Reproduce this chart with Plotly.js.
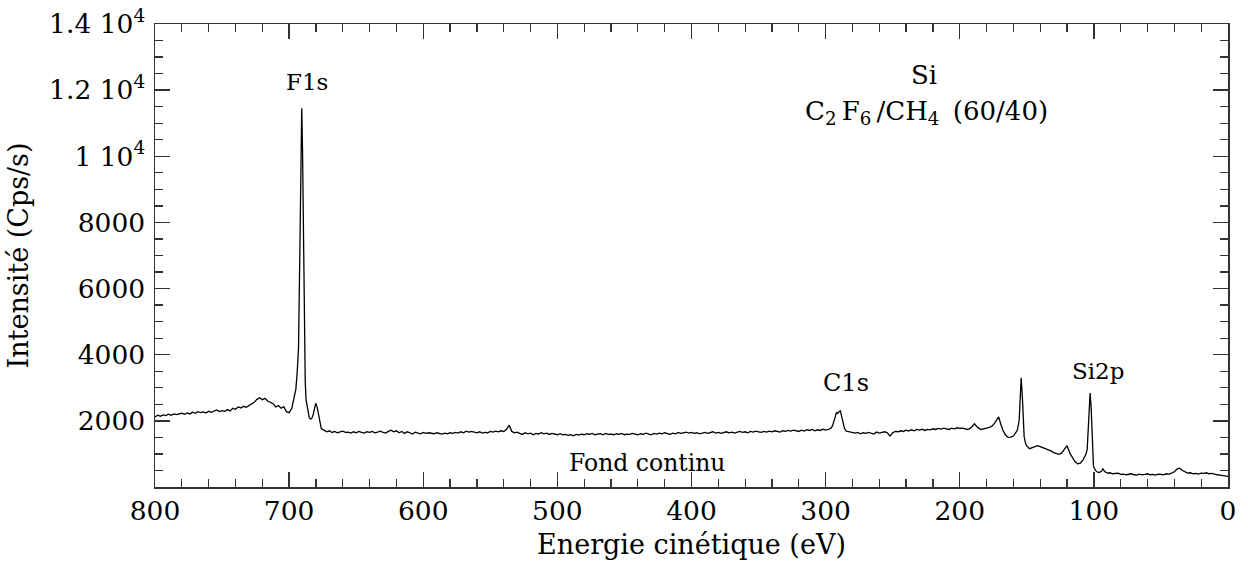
<!DOCTYPE html>
<html>
<head>
<meta charset="utf-8">
<script src="https://cdn.plot.ly/plotly-3.0.1.min.js"></script>
<style>html,body{margin:0;padding:0;background:#fff;}#chart{width:1248px;height:564px;}</style>
</head>
<body>
<div id="chart"></div>
<script>
// Kinetic energy (eV) and intensity (Cps/s)
const energy = [
800,798,796,794,792,790,788,786,784,782,780,778,776,774,772,770,768,766,764,762,
760,758,756,754,752,750,748,746,744,742,740,738,736,734,732,730,728,726,724,722,
720,718,716,714,712,710,708,706,704,702,700,698,697,696,695,694,693,692,691,690.6,
690,689.4,688.7,688,687.4,686,685,684,683,682,681,680.2,679,678,677,676,674,672,670,668,
666,664,662,660,658,656,654,652,650,648,646,644,642,640,638,636,634,632,630,628,
626,624,622,620,618,616,614,612,610,608,606,604,602,600,598,596,594,592,590,588,
586,584,582,580,578,576,574,572,570,568,566,564,562,560,558,556,554,552,550,548,
546,544,542,540,538,537,536,535,534,532,530,528,526,524,522,520,518,516,514,512,
510,508,506,504,502,500,498,496,494,492,490,488,486,484,482,480,478,476,474,472,
470,468,466,464,462,460,458,456,454,452,450,448,446,444,442,440,438,436,434,432,
430,428,426,424,422,420,418,416,414,412,410,408,406,404,402,400,398,396,394,392,
390,388,386,384,382,380,378,376,374,372,370,368,366,364,362,360,358,356,354,352,
350,348,346,344,342,340,338,336,334,332,330,328,326,324,322,320,318,316,314,312,
310,308,306,304,302,300,298,296,295,294,293,292,291,290,289,288,287,286,285,284,
282,280,278,276,274,272,270,268,266,264,262,260,258,256,254,252,250,248,246,244,
242,240,238,236,234,232,230,228,226,224,222,220,218,216,214,212,210,208,206,204,
202,200,198,196,194,192,190,189,188,186,184,182,180,178,176,174,172,171,170,168,
166,164,162,160,158,157,156,155.7,155,154.2,153.2,152,151,150,148,146,144,142,140,138,
136,134,132,130,128,126,124,122,120,118,116,114,112,110,108,106,105,104,102.8,102,
101.5,101,100.3,99,97.8,96,94,93.3,92,90,88,86,84,82,80,78,76,74,72,70,
68,66,64,62,60,58,56,54,52,50,48,46,44,42,40,38,36,34,32,30,
28,26,24,22,20,18,16,14,12,10,8,6,4,2,0
];
const intensity = [
2120,2170,2140,2180,2160,2200,2170,2210,2190,2200,2230,2200,2240,2210,2260,2230,2280,2250,2270,2240,
2290,2260,2300,2330,2280,2310,2290,2340,2300,2380,2350,2420,2390,2440,2410,2460,2500,2560,2650,2700,
2640,2680,2600,2560,2520,2420,2460,2380,2430,2280,2250,2380,2550,2750,2950,3450,4200,7100,10500,11450,
10200,8300,4300,3200,2650,2250,2100,2050,2080,2200,2420,2530,2400,2150,1900,1760,1720,1670,1700,1650,
1680,1640,1670,1690,1650,1660,1630,1670,1640,1680,1650,1630,1670,1650,1680,1640,1660,1690,1650,1630,
1680,1720,1670,1700,1640,1680,1620,1670,1640,1600,1660,1630,1610,1650,1620,1640,1630,1610,1640,1620,
1600,1630,1610,1640,1620,1650,1630,1670,1640,1690,1660,1680,1650,1640,1670,1630,1650,1640,1680,1660,
1690,1670,1700,1680,1740,1800,1860,1780,1680,1640,1660,1620,1590,1640,1610,1630,1580,1620,1600,1640,
1610,1630,1590,1620,1600,1580,1610,1580,1590,1560,1580,1550,1590,1570,1600,1580,1610,1590,1620,1580,
1600,1610,1580,1620,1590,1600,1580,1610,1590,1620,1580,1600,1590,1620,1600,1580,1610,1590,1630,1600,
1580,1620,1600,1630,1610,1640,1610,1590,1630,1610,1650,1620,1640,1660,1630,1650,1620,1640,1610,1630,
1650,1620,1640,1670,1630,1650,1620,1640,1670,1640,1660,1630,1650,1680,1650,1670,1640,1680,1660,1690,
1670,1650,1680,1660,1690,1670,1700,1680,1660,1700,1680,1710,1690,1720,1700,1680,1720,1690,1730,1710,
1740,1700,1730,1710,1750,1720,1740,1780,1840,1940,2090,2250,2230,2280,2300,2130,1930,1780,1700,1680,
1670,1640,1630,1650,1610,1640,1620,1650,1630,1600,1660,1630,1650,1670,1640,1540,1640,1680,1670,1700,
1680,1720,1690,1730,1700,1740,1720,1750,1710,1740,1730,1760,1740,1770,1750,1780,1760,1740,1780,1760,
1790,1770,1780,1760,1740,1780,1880,1910,1860,1780,1740,1750,1780,1800,1840,1930,2080,2120,1980,1730,
1580,1500,1510,1540,1660,1730,1950,2030,2620,3300,2630,1530,1330,1240,1160,1190,1230,1250,1220,1190,
1170,1130,1090,1040,1020,990,1030,1130,1250,1030,880,760,700,720,830,980,1130,2030,2840,2380,
1830,1280,630,520,460,440,490,560,470,420,430,400,410,420,380,390,370,380,400,370,
360,390,370,380,400,370,380,360,390,380,370,400,390,420,460,540,570,500,450,420,
430,400,410,390,420,410,430,400,410,380,370,360,340,330,320
];
const xTicks = [800,700,600,500,400,300,200,100,0];
const yTicks = [2000,4000,6000,8000,10000,12000,14000];
const yTickText = ['2000','4000','6000','8000','1 10<sup>4</sup>','1.2 10<sup>4</sup>','1.4 10<sup>4</sup>'];
const labelText = ['F1s','Si','C<sub>2</sub>&#8201;F<sub>6</sub>&#8201;/CH<sub>4</sub>&#160;&#8201;(60/40)','C1s','Si2p','Fond continu'];
const labelX = [687,227,225,285,97,433];
const labelY = [12250,12450,11330,3150,3520,730];
const labelSize = [23,26,26,24,23,23.5];

const FONT = 'DejaVu Serif, serif';
const trace = {
  x: energy, y: intensity, type: 'scatter', mode: 'lines',
  line: {color: '#000', width: 1.3}, hoverinfo: 'skip', showlegend: false
};
const axisCommon = {
  showgrid: false, zeroline: false, showline: true, linecolor: '#333', linewidth: 1.5,
  mirror: 'allticks', ticks: 'inside', ticklen: 15, tickwidth: 1.3, tickcolor: '#333',
  tickfont: {family: FONT, size: 26.5, color: '#000'}
};
const layout = {
  width: 1248, height: 564,
  margin: {l: 155, r: 20, t: 24, b: 77},
  paper_bgcolor: '#fff', plot_bgcolor: '#fff',
  font: {family: FONT, color: '#000'},
  xaxis: Object.assign({}, axisCommon, {
    range: [800, 0], tickmode: 'array', tickvals: xTicks, ticktext: xTicks.map(String),
    minor: {tickmode: 'linear', tick0: 0, dtick: 20, ticks: 'inside', ticklen: 8, tickwidth: 1.3, tickcolor: '#333', showgrid: false},
    title: {text: 'Energie cinétique (eV)', font: {family: FONT, size: 27, color: '#000'}, standoff: 10}
  }),
  yaxis: Object.assign({}, axisCommon, {
    range: [0, 14000], tickmode: 'array', tickvals: yTicks, ticktext: yTickText,
    ticklabelstandoff: 3,
    minor: {tickmode: 'linear', tick0: 0, dtick: 500, ticks: 'inside', ticklen: 8, tickwidth: 1.3, tickcolor: '#333', showgrid: false},
    title: {text: 'Intensité (Cps/s)', font: {family: FONT, size: 27, color: '#000'}, standoff: 12}
  }),
  annotations: labelText.map((t, i) => ({
    x: labelX[i], y: labelY[i], xref: 'x', yref: 'y', text: t, showarrow: false,
    xanchor: 'center', yanchor: 'middle', font: {family: FONT, size: labelSize[i], color: '#000'}
  }))
};
Plotly.newPlot('chart', [trace], layout, {displayModeBar: false, staticPlot: true});
</script>
</body>
</html>
